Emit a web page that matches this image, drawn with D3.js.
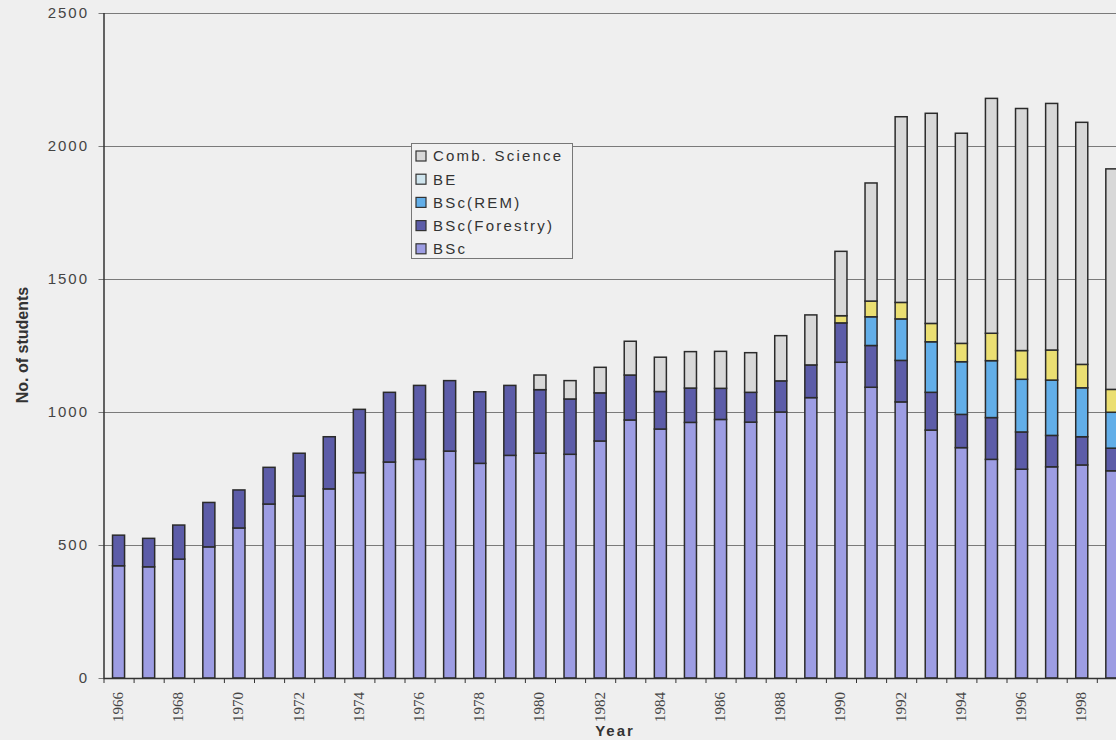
<!DOCTYPE html>
<html>
<head>
<meta charset="utf-8">
<script src="https://cdn.jsdelivr.net/npm/d3@7"></script>
<style>
  html, body { margin: 0; padding: 0; background: #efefef; }
  svg { display: block; }
</style>
</head>
<body>
<svg id="chart" width="1116" height="740"></svg>
<script>
// Student enrolments by degree programme, 1966–1999
const years = d3.range(1966, 2000);
const bsc        = [422, 418, 447, 493, 564, 654, 684, 711, 772, 812, 822, 853, 807, 837, 845, 841, 891, 970, 936, 961, 972, 962, 1000, 1054, 1187, 1093, 1038, 932, 866, 822, 785, 794, 801, 779];
const forestry   = [115, 107, 128, 167, 143, 138, 161, 196, 238, 262, 278, 265, 269, 263, 239, 208, 181, 169, 141, 129, 117, 112, 117, 123, 148, 157, 156, 142, 125, 157, 140, 118, 106, 85];
const rem        = [0, 0, 0, 0, 0, 0, 0, 0, 0, 0, 0, 0, 0, 0, 0, 0, 0, 0, 0, 0, 0, 0, 0, 0, 0, 108, 156, 190, 198, 214, 198, 208, 184, 135];
const be         = [0, 0, 0, 0, 0, 0, 0, 0, 0, 0, 0, 0, 0, 0, 0, 0, 0, 0, 0, 0, 0, 0, 0, 0, 27, 59, 62, 69, 69, 103, 108, 113, 88, 86];
const combScience= [0, 0, 0, 0, 0, 0, 0, 0, 0, 0, 0, 0, 0, 0, 55, 69, 96, 127, 129, 137, 139, 149, 170, 188, 242, 444, 698, 790, 790, 883, 910, 927, 910, 829];
const seriesKeys = ["BSc", "BSc(Forestry)", "BSc(REM)", "BE", "Comb. Science"];
const yTicks = [0, 500, 1000, 1500, 2000, 2500];

const barFill = {
  "BSc": "#9d9de3",
  "BSc(Forestry)": "#5c5ca8",
  "BSc(REM)": "#62aee8",
  "BE": "#ebdf72",
  "Comb. Science": "#d8d8d8"
};
const legendFill = {
  "BSc": "#9d9de3",
  "BSc(Forestry)": "#5c5ca8",
  "BSc(REM)": "#62aee8",
  "BE": "#cfe5ee",
  "Comb. Science": "#d8d8d8"
};

const table = years.map((yr, i) => ({
  year: yr,
  "BSc": bsc[i],
  "BSc(Forestry)": forestry[i],
  "BSc(REM)": rem[i],
  "BE": be[i],
  "Comb. Science": combScience[i]
}));

const svg = d3.select("#chart");
const plotLeft = 103.5, plotBottom = 678, plotTop = 13, step = 30.1;

const x = d3.scaleBand()
  .domain(years)
  .range([plotLeft, plotLeft + years.length * step])
  .paddingInner(0.6)
  .paddingOuter(0.3);

const y = d3.scaleLinear().domain([0, 2500]).range([plotBottom, plotTop]);

// horizontal gridlines with short ticks to the left of the axis
const grid = svg.append("g");
grid.selectAll("line")
  .data(yTicks)
  .join("line")
  .attr("x1", plotLeft - 5)
  .attr("x2", 1116)
  .attr("y1", d => Math.round(y(d)) + 0.5)
  .attr("y2", d => Math.round(y(d)) + 0.5)
  .attr("stroke", "#7a7a7a")
  .attr("stroke-width", 1);

grid.selectAll("text")
  .data(yTicks)
  .join("text")
  .attr("x", 89)
  .attr("y", d => y(d))
  .attr("dy", "0.35em")
  .attr("text-anchor", "end")
  .attr("font-family", "Liberation Sans, Arial, sans-serif")
  .attr("font-size", 15)
  .attr("letter-spacing", 2)
  .attr("fill", "#444")
  .text(d => d);

// stacked bars
const stack = d3.stack().keys(seriesKeys);
const layers = stack(table);

svg.append("g")
  .selectAll("g")
  .data(layers)
  .join("g")
  .attr("fill", d => barFill[d.key])
  .selectAll("rect")
  .data(d => d.filter(s => s[1] - s[0] > 0))
  .join("rect")
  .attr("x", d => x(d.data.year))
  .attr("width", x.bandwidth())
  .attr("y", d => y(d[1]))
  .attr("height", d => y(d[0]) - y(d[1]))
  .attr("stroke", "#2b2b2b")
  .attr("stroke-width", 1.5);

// axes
svg.append("line")
  .attr("x1", plotLeft + 0.5).attr("x2", plotLeft + 0.5)
  .attr("y1", plotTop).attr("y2", plotBottom)
  .attr("stroke", "#333").attr("stroke-width", 1.5);

svg.append("line")
  .attr("x1", plotLeft).attr("x2", 1116)
  .attr("y1", plotBottom + 0.5).attr("y2", plotBottom + 0.5)
  .attr("stroke", "#333").attr("stroke-width", 1.5);

// tick marks at category boundaries
const boundaries = years.map(yr => x(yr) - x.step() * x.paddingOuter());
svg.append("g")
  .selectAll("line")
  .data(boundaries)
  .join("line")
  .attr("x1", d => d + 0.5).attr("x2", d => d + 0.5)
  .attr("y1", plotBottom).attr("y2", plotBottom + 5)
  .attr("stroke", "#333");

// year labels on every other category
svg.append("g")
  .selectAll("text")
  .data(years.filter(yr => yr % 2 === 0))
  .join("text")
  .attr("transform", d => `translate(${x(d) + x.bandwidth() / 2 + 4.5},${plotBottom + 14}) rotate(-90)`)
  .attr("text-anchor", "end")
  .attr("font-family", "Liberation Serif, Times New Roman, serif")
  .attr("font-size", 15)
  .attr("fill", "#444")
  .text(d => d);

// axis titles
svg.append("text")
  .attr("x", 615).attr("y", 736)
  .attr("text-anchor", "middle")
  .attr("font-family", "Liberation Sans, Arial, sans-serif")
  .attr("font-weight", "bold")
  .attr("font-size", 15)
  .attr("letter-spacing", 2)
  .attr("fill", "#333")
  .text("Year");

svg.append("text")
  .attr("transform", "translate(28,345) rotate(-90)")
  .attr("text-anchor", "middle")
  .attr("font-family", "Liberation Sans, Arial, sans-serif")
  .attr("font-weight", "bold")
  .attr("font-size", 16)
  .attr("fill", "#333")
  .text("No. of students");

// legend
const legend = svg.append("g").attr("transform", "translate(411,143)");
legend.append("rect")
  .attr("x", 0.5).attr("y", 0.5)
  .attr("width", 161).attr("height", 115)
  .attr("fill", "#f1f1f1")
  .attr("stroke", "#777");

const legendOrder = seriesKeys.slice().reverse();
const item = legend.selectAll("g.item")
  .data(legendOrder)
  .join("g")
  .attr("class", "item")
  .attr("transform", (d, i) => `translate(5,${13 + i * 23.2})`);

item.append("rect")
  .attr("x", 0).attr("y", -5)
  .attr("width", 10).attr("height", 10)
  .attr("fill", d => legendFill[d])
  .attr("stroke", "#333")
  .attr("stroke-width", 1.2);

item.append("text")
  .attr("x", 17)
  .attr("dy", "0.36em")
  .attr("font-family", "Liberation Sans, Arial, sans-serif")
  .attr("font-size", 15)
  .attr("letter-spacing", 2.2)
  .attr("fill", "#333")
  .text(d => d);
</script>
</body>
</html>
